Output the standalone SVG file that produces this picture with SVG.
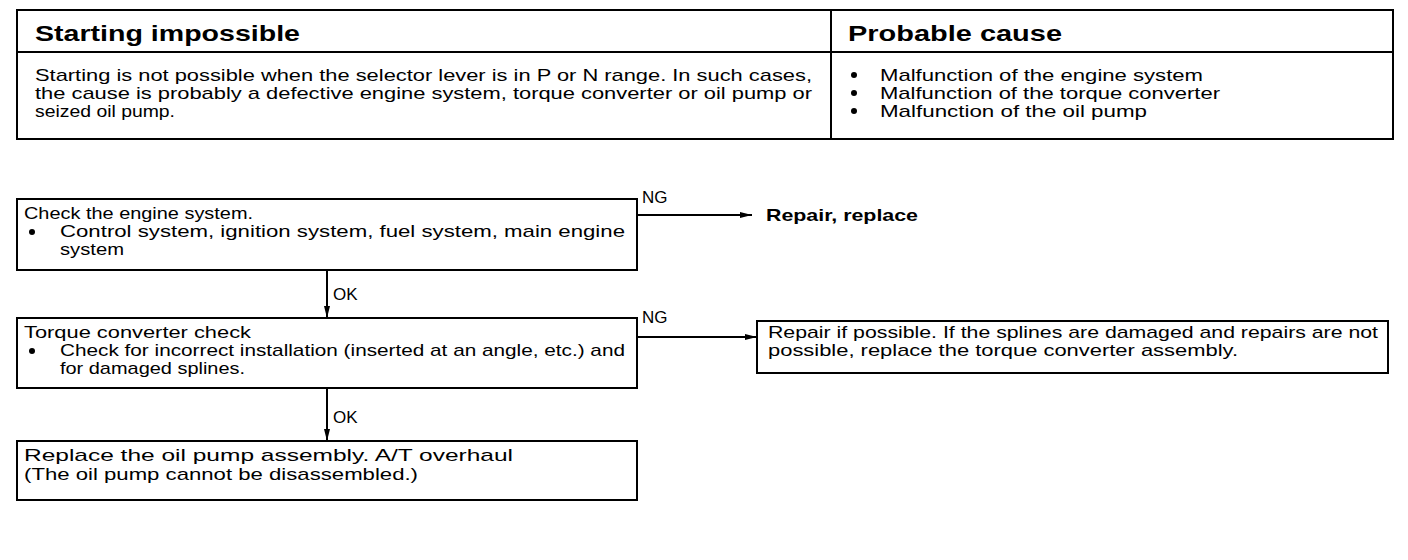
<svg xmlns="http://www.w3.org/2000/svg" width="1408" height="560" viewBox="0 0 1408 560">
<defs>
<style>
.t{font-family:"Liberation Sans",Arial,sans-serif;font-size:17px;fill:#000}
.h{font-family:"Liberation Sans",Arial,sans-serif;font-size:22px;font-weight:bold;fill:#000}
.b{font-family:"Liberation Sans",Arial,sans-serif;font-size:17px;font-weight:bold;fill:#000}
.box{fill:#fff;stroke:#000;stroke-width:2}
.ln{stroke:#000;stroke-width:2;fill:none}
.c{stroke:#000;stroke-width:2;fill:none}
</style>
<marker id="ah" viewBox="0 0 12 8" refX="12" refY="4" markerWidth="12" markerHeight="8" markerUnits="userSpaceOnUse" orient="auto">
<path d="M0,1 L12,4 L0,7 Z" fill="#000"/>
</marker>
</defs>
<rect width="1408" height="560" fill="#fff"/>
<g id="table">
<rect class="box" x="17" y="10" width="1376" height="129"/>
<line class="ln" x1="17" y1="52" x2="1393" y2="52"/>
<line class="ln" x1="831" y1="10" x2="831" y2="139"/>
<text class="h" x="35" y="41" textLength="265" lengthAdjust="spacingAndGlyphs">Starting impossible</text>
<text class="h" x="848" y="41" textLength="214" lengthAdjust="spacingAndGlyphs">Probable cause</text>
<text class="t" x="35" y="81" textLength="777" lengthAdjust="spacingAndGlyphs">Starting is not possible when the selector lever is in P or N range. In such cases,</text>
<text class="t" x="35" y="99" textLength="777" lengthAdjust="spacingAndGlyphs">the cause is probably a defective engine system, torque converter or oil pump or</text>
<text class="t" x="35" y="117" textLength="140" lengthAdjust="spacingAndGlyphs">seized oil pump.</text>
<circle cx="854" cy="75" r="3"/>
<circle cx="854" cy="93" r="3"/>
<circle cx="854" cy="111" r="3"/>
<text class="t" x="880" y="81" textLength="323" lengthAdjust="spacingAndGlyphs">Malfunction of the engine system</text>
<text class="t" x="880" y="99" textLength="340" lengthAdjust="spacingAndGlyphs">Malfunction of the torque converter</text>
<text class="t" x="880" y="117" textLength="267" lengthAdjust="spacingAndGlyphs">Malfunction of the oil pump</text>
</g>
<g id="connectors">
<line class="c" x1="637" y1="215" x2="752" y2="215" marker-end="url(#ah)"/>
<line class="c" x1="637" y1="337" x2="757" y2="337" marker-end="url(#ah)"/>
<line class="c" x1="327" y1="270" x2="327" y2="318" marker-end="url(#ah)"/>
<line class="c" x1="327" y1="388" x2="327" y2="441" marker-end="url(#ah)"/>
<text class="t" x="642" y="203">NG</text>
<text class="t" x="642" y="323">NG</text>
<text class="t" x="333" y="300">OK</text>
<text class="t" x="333" y="423">OK</text>
</g>
<g id="n1">
<rect class="box" x="17" y="199" width="620" height="71"/>
<text class="t" x="24" y="219" textLength="229" lengthAdjust="spacingAndGlyphs">Check the engine system.</text>
<circle cx="32" cy="232" r="3"/>
<text class="t" x="60" y="237" textLength="565" lengthAdjust="spacingAndGlyphs">Control system, ignition system, fuel system, main engine</text>
<text class="t" x="60" y="255" textLength="64" lengthAdjust="spacingAndGlyphs">system</text>
</g>
<g id="n2">
<text class="b" x="766" y="221" textLength="152" lengthAdjust="spacingAndGlyphs">Repair, replace</text>
</g>
<g id="n3">
<rect class="box" x="17" y="318" width="620" height="70"/>
<text class="t" x="24" y="338" textLength="227" lengthAdjust="spacingAndGlyphs">Torque converter check</text>
<circle cx="32" cy="351" r="3"/>
<text class="t" x="60" y="356" textLength="565" lengthAdjust="spacingAndGlyphs">Check for incorrect installation (inserted at an angle, etc.) and</text>
<text class="t" x="60" y="374" textLength="185" lengthAdjust="spacingAndGlyphs">for damaged splines.</text>
</g>
<g id="n4">
<rect class="box" x="757" y="321" width="631" height="52"/>
<text class="t" x="768" y="338" textLength="610" lengthAdjust="spacingAndGlyphs">Repair if possible. If the splines are damaged and repairs are not</text>
<text class="t" x="768" y="356" textLength="470" lengthAdjust="spacingAndGlyphs">possible, replace the torque converter assembly.</text>
</g>
<g id="n5">
<rect class="box" x="17" y="441" width="620" height="59"/>
<text class="t" x="24" y="461" textLength="489" lengthAdjust="spacingAndGlyphs">Replace the oil pump assembly. A/T overhaul</text>
<text class="t" x="24" y="480" textLength="394" lengthAdjust="spacingAndGlyphs">(The oil pump cannot be disassembled.)</text>
</g>
</svg>
